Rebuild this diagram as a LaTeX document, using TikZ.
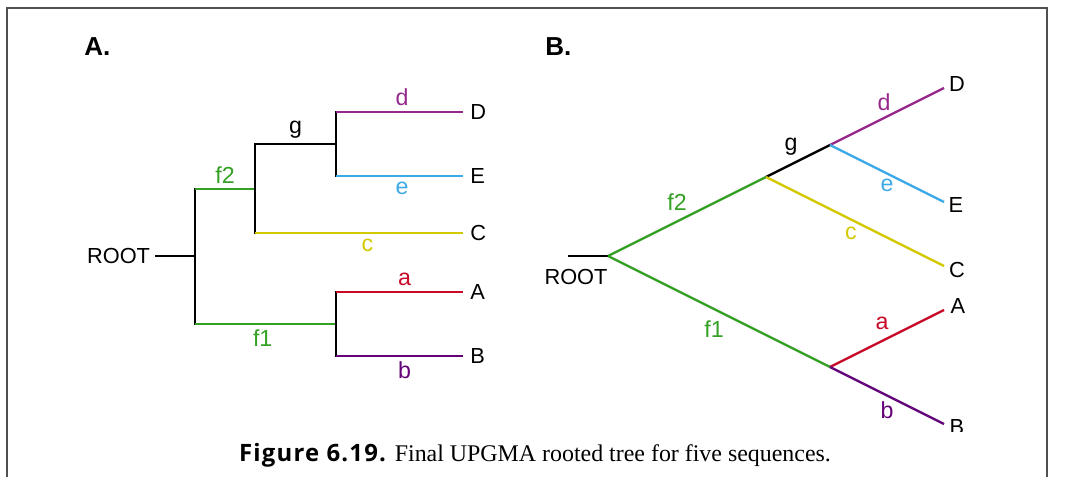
\documentclass[tikz,border=0pt]{standalone}
\usepackage{fontspec}
\setmainfont{Liberation Sans}
\newfontfamily\capsans[LetterSpace=5]{Open Sans}
\newfontfamily\capserif{Liberation Serif}
\usetikzlibrary{positioning}
\definecolor{tgreen}{RGB}{52,160,36}
\definecolor{tmagenta}{RGB}{150,40,140}
\definecolor{tblue}{RGB}{60,170,230}
\definecolor{tyellow}{RGB}{212,200,0}
\definecolor{tred}{RGB}{200,10,40}
\definecolor{tpurple}{RGB}{100,0,120}
\definecolor{tframe}{RGB}{80,80,80}

\begin{document}
\begin{tikzpicture}[
  font=\fontsize{15.5}{18}\selectfont,
  branch/.style={line width=1.7pt},
  stem/.style={line width=1.7pt, line cap=rect},
  blab/.style={font=\fontsize{16.5}{19}\selectfont},
  leaf/.style={inner sep=0.18cm, anchor=west},
  panel/.style={font=\fontsize{18.5}{22}\selectfont\bfseries, anchor=west, inner sep=0pt}
]
\useasboundingbox (0,0) rectangle (26.7,11.925);

% FRAME
\draw[tframe, line width=1.4pt] (0.175,0) |- (26.175,11.725) -- (26.175,0);

% PANEL A (rectangular tree)
\node[panel] (labA) at (2.1,10.75) {A.};
\node[anchor=east] (arootlab) at (3.875,5.525) {ROOT};
\coordinate (aR) at (4.875,5.525);
\coordinate (aF) at (6.375,7.2);
\coordinate (aG) at (8.4,8.325);
\coordinate (aH) at (8.4,3.825);
\node[leaf] (aD) at (11.575,9.125) {D};
\node[leaf] (aE) at (11.575,7.525) {E};
\node[leaf] (aC) at (11.575,6.1) {C};
\node[leaf] (aA) at (11.575,4.625) {A};
\node[leaf] (aB) at (11.575,3.025) {B};

\draw[branch] (arootlab) -- (aR);
\draw[stem] (aR |- aF) -- (aR |- aH);
\draw[branch, tgreen] (aR |- aF) -- node[blab, above] {f2} (aF);
\draw[branch, tgreen] (aR |- aH) -- node[blab, below, pos=0.48] {f1} (aH);
\draw[stem] (aF |- aG) -- (aF |- aC);
\draw[branch] (aF |- aG) -- node[blab, above] {g} (aG);
\draw[branch, tyellow] (aF |- aC) -- node[blab, below, pos=0.54] {c} (aC);
\draw[stem] (aG |- aD) -- (aG |- aE);
\draw[branch, tmagenta] (aG |- aD) -- node[blab, above, pos=0.52] {d} (aD);
\draw[branch, tblue] (aG |- aE) -- node[blab, below, pos=0.52] {e} (aE);
\draw[stem] (aH |- aA) -- (aH |- aB);
\draw[branch, tred] (aH |- aA) -- node[blab, above, pos=0.54] {a} (aA);
\draw[branch, tpurple] (aH |- aB) -- node[blab, below, pos=0.54] {b} (aB);

% PANEL B (slanted tree)
\node[panel] (labB) at (13.625,10.75) {B.};
\begin{scope}
  \clip (13,1.125) rectangle (26,11.6);
  \coordinate (bS) at (14.2,5.525);
  \coordinate (bR) at (15.2,5.525);
  \coordinate (bF) at (19.15,7.5);
  \coordinate (bG) at (20.75,8.3);
  \coordinate (bH) at (20.75,2.75);
  \coordinate (tD) at (23.6,9.725);
  \coordinate (tE) at (23.6,6.875);
  \coordinate (tC) at (23.6,5.275);
  \coordinate (tA) at (23.6,4.175);
  \coordinate (tB) at (23.6,1.325);
  \node (brootlab) at (14.4,5.0) {ROOT};
  \node (bD) at (23.925,9.825) {D};
  \node (bE) at (23.9,6.8) {E};
  \node (bC) at (23.925,5.175) {C};
  \node (bA) at (23.95,4.275) {A};
  \node (bB) at (23.925,1.25) {B};

  \draw[branch] (bS) -- (bR);
  \draw[branch, tgreen] (bR) -- node[blab, above, xshift=-0.25cm] {f2} (bF);
  \draw[branch, tgreen] (bR) -- node[blab, below=0.08cm, xshift=-0.125cm] {f1} (bH);
  \draw[branch] (bF) -- node[blab, above, xshift=-0.175cm] {g} (bG);
  \draw[branch, tyellow] (bF) -- node[blab, below, xshift=-0.1cm] {c} (tC);
  \draw[branch, tmagenta] (bG) -- node[blab, above, xshift=-0.075cm] {d} (tD);
  \draw[branch, tblue] (bG) -- node[blab, below] {e} (tE);
  \draw[branch, tred] (bH) -- node[blab, above=0.07cm, xshift=-0.125cm] {a} (tA);
  \draw[branch, tpurple] (bH) -- node[blab, below] {b} (tB);
\end{scope}

% CAPTION
\node[anchor=base] (caption) at (13.375,0.375)
  {\fontsize{17}{20}\selectfont{\capsans\bfseries Figure 6.19.} \capserif Final UPGMA rooted tree for five sequences.};

\end{tikzpicture}
\end{document}
